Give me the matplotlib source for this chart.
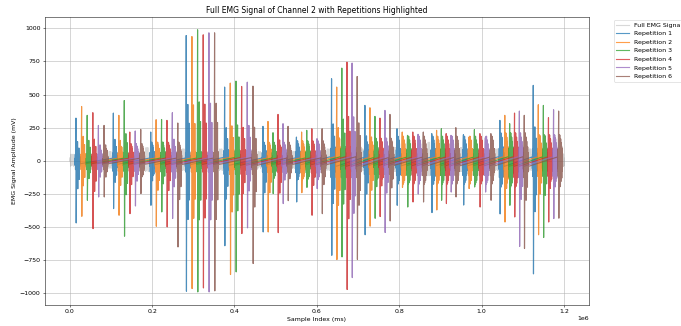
import numpy as np
import matplotlib

matplotlib.use("Agg")
import matplotlib.pyplot as plt

# --- data -----------------------------------------------------------------
N_SAMPLES = 1_200_000

# sample index of the rep-1 burst and the rep-6 burst of each movement
move_start = [18700, 109500, 200200, 286400, 379600, 472700, 554000,
              639200, 720200, 798100, 882500, 959400, 1047900, 1128900]
move_end = [86900, 175900, 265900, 355200, 448400, 533600, 616300,
            701500, 781000, 862000, 940900, 1026000, 1107100, 1190500]

# dense body amplitude of the bursts in each movement (mV)
body = [110, 130, 140, 140, 170, 140, 150, 210, 170, 185, 185, 185, 210, 195]
# resting amplitude in the gaps (before m1, between movements, after m14)
rest_amp = [50, 70, 100, 90, 90, 70, 70, 90, 90, 100, 140, 100, 90, 90, 50]

# tallest positive / negative spike of every burst, one list per repetition
hi_rep1 = [322, 360, 217, 945, 556, 260, 179, 619, 418, 242, 205, 197, 305, 569]
hi_rep2 = [410, 343, 310, 937, 586, 297, 217, 556, 400, 217, 230, 179, 343, 423]
hi_rep3 = [343, 455, 312, 988, 601, 212, 230, 699, 335, 192, 242, 235, 280, 418]
hi_rep4 = [363, 217, 305, 950, 561, 350, 242, 744, 322, 217, 205, 205, 360, 325]
hi_rep5 = [267, 225, 363, 965, 593, 280, 167, 737, 380, 200, 192, 175, 375, 385]
hi_rep6 = [267, 237, 285, 965, 563, 260, 242, 636, 350, 217, 250, 205, 343, 375]

lo_rep1 = [-468, -360, -335, -983, -640, -536, -310, -712, -557, -335, -390, -333, -400, -852]
lo_rep2 = [-418, -410, -493, -963, -857, -536, -240, -744, -492, -200, -370, -209, -461, -557]
lo_rep3 = [-297, -568, -385, -988, -837, -247, -200, -724, -433, -348, -297, -197, -335, -578]
lo_rep4 = [-511, -398, -498, -958, -548, -541, -410, -970, -420, -310, -322, -348, -423, -461]
lo_rep5 = [-272, -340, -435, -988, -505, -322, -209, -880, -540, -250, -235, -235, -645, -435]
lo_rep6 = [-272, -247, -649, -980, -774, -300, -398, -744, -453, -310, -272, -297, -661, -432]

rep_labels = ["Repetition 1", "Repetition 2", "Repetition 3",
              "Repetition 4", "Repetition 5", "Repetition 6"]

# --- drawing helpers (shape of one burst, not data) -----------------------
SHAPE = [0.15, 0.3, 0.45, 0.6, 0.75, 0.9, 1.0, 0.95, 1.0, 0.9,
         0.85, 0.8, 0.7, 0.6, 0.5, 0.4, 0.3, 0.2]
SPIKES = [(14, 0.3), (10, 0.45), (5, 1.0)]   # (position, share of the peak)
REST_SHAPE = [0.5, 0.8, 1.0, 0.7, 0.9, 0.6, 1.0, 0.8, 0.5, 0.7]
HALF_W = 6300


def zigzag(env, amp):
    return [(1 if i % 2 == 0 else -1) * e * amp for i, e in enumerate(env)]


def burst(center, amp, hi, lo):
    ys = zigzag(SHAPE, amp)
    for pos, f in SPIKES:
        ys[pos:pos] = [f * hi, f * lo]
    xs = np.linspace(center - HALF_W, center + HALF_W, len(ys))
    return list(xs), ys


def rest(a, b, amp):
    xs = np.linspace(a, b, len(REST_SHAPE) + 2)[1:-1]
    return list(xs), zigzag(REST_SHAPE, amp)


his = [hi_rep1, hi_rep2, hi_rep3, hi_rep4, hi_rep5, hi_rep6]
los = [lo_rep1, lo_rep2, lo_rep3, lo_rep4, lo_rep5, lo_rep6]

rep_x = [[] for _ in rep_labels]
rep_y = [[] for _ in rep_labels]
full_x, full_y = [0.0], [0.0]
for m in range(len(move_start)):
    rx, ry = rest(full_x[-1], move_start[m] - HALF_W, rest_amp[m])
    full_x += rx
    full_y += ry
    centers = np.linspace(move_start[m], move_end[m], len(rep_labels))
    for r, c in enumerate(centers):
        bx, by = burst(c, body[m], his[r][m], los[r][m])
        rep_x[r] += bx
        rep_y[r] += by
        full_x += bx
        full_y += by
rx, ry = rest(full_x[-1], N_SAMPLES, rest_amp[-1])
full_x += rx + [N_SAMPLES]
full_y += ry + [0.0]

# --- figure ---------------------------------------------------------------
DPI = 45.4
fig = plt.figure(figsize=(681 / DPI, 326 / DPI), dpi=DPI)
ax = fig.add_axes([0.0661, 0.0644, 0.8645 - 0.0661, 0.9488 - 0.0644])

ax.plot(full_x, full_y, color="gray", alpha=0.3, lw=1.8, label="Full EMG Signal")
for r, lab in enumerate(rep_labels):
    ax.plot(rep_x[r], rep_y[r], color=f"C{r}", alpha=0.75, lw=1.8, label=lab)

ax.set_title("Full EMG Signal of Channel 2 with Repetitions Highlighted")
ax.set_xlabel("Sample Index (ms)")
ax.set_ylabel("EMG Signal Amplitude (mV)")
ax.legend(bbox_to_anchor=(1.04, 1), loc="upper left")
ax.grid(True)

fig.savefig("out.png", dpi=DPI)
